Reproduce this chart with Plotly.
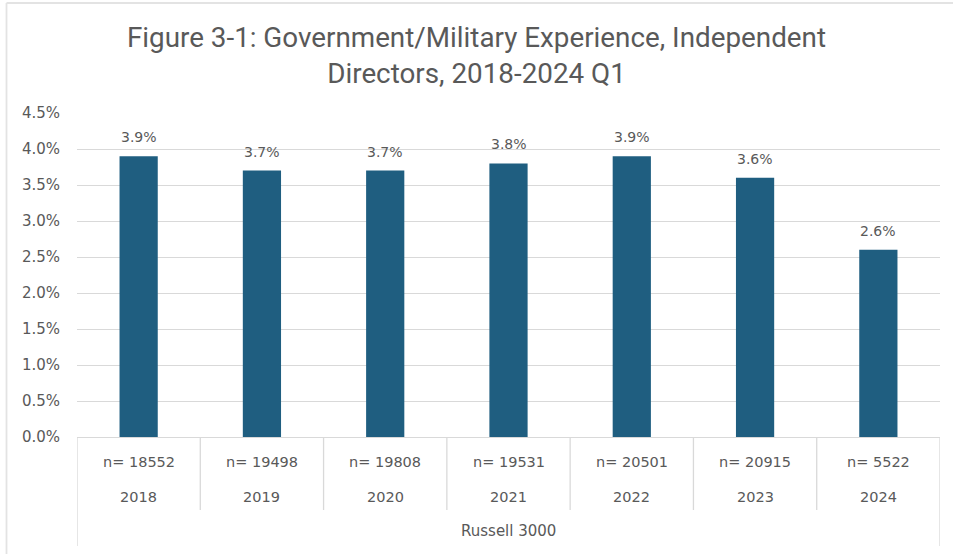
import plotly.graph_objects as go

# Share of independent directors with government/military experience (%)
years = ["2018", "2019", "2020", "2021", "2022", "2023", "2024"]
sample_sizes = ["n= 18552", "n= 19498", "n= 19808", "n= 19531", "n= 20501", "n= 20915", "n= 5522"]
share_pct = [3.9, 3.7, 3.7, 3.8, 3.9, 3.6, 2.6]
group_label = "Russell 3000"
y_ticks = [0.0, 0.5, 1.0, 1.5, 2.0, 2.5, 3.0, 3.5, 4.0, 4.5]

W, H = 953, 554
L, R, T, B = 77, 13, 113, 117
plot_w = W - L - R
plot_h = H - T - B

BAR = "#1F5E80"
TEXT = "#595959"
GRID = "#D9D9D9"
FONT = "DejaVu Sans, Arial, sans-serif"


def py(pixel_y):
    """Convert a page pixel row to paper y coordinate."""
    return (H - B - pixel_y) / plot_h


def px(pixel_x):
    return (pixel_x - L) / plot_w


xs = list(range(len(years)))

fig = go.Figure()
fig.add_trace(go.Bar(
    x=xs, y=share_pct, width=0.31,
    marker=dict(color=BAR, line=dict(width=0)),
    hoverinfo="skip",
))

annotations = []
# value labels above bars
for x, v in zip(xs, share_pct):
    annotations.append(dict(
        x=x, y=v, xref="x", yref="y", text=f"{v:.1f}%", showarrow=False,
        yanchor="bottom", yshift=9, font=dict(size=14, color=TEXT, family=FONT),
    ))
# multi-level category labels
for x, n, yr in zip(xs, sample_sizes, years):
    annotations.append(dict(
        x=x, y=py(462), xref="x", yref="paper", text=n, showarrow=False,
        yanchor="middle", font=dict(size=14.5, color=TEXT, family=FONT),
    ))
    annotations.append(dict(
        x=x, y=py(497), xref="x", yref="paper", text=yr, showarrow=False,
        yanchor="middle", font=dict(size=14.5, color=TEXT, family=FONT),
    ))
annotations.append(dict(
    x=(len(years) - 1) / 2, y=py(531), xref="x", yref="paper", text=group_label,
    showarrow=False, yanchor="middle", font=dict(size=15, color=TEXT, family=FONT),
))

shapes = []
SEP = dict(color=GRID, width=1.3)
# category separators below the axis
for i in range(len(years) + 1):
    xb = i - 0.5
    bottom = 546 if i in (0, len(years)) else 510
    shapes.append(dict(type="line", xref="x", yref="paper", x0=xb, x1=xb,
                       y0=0, y1=py(bottom), line=SEP, layer="below"))
# outer frame (left and top edges)
shapes.append(dict(type="line", xref="paper", yref="paper", x0=px(6.5), x1=px(6.5),
                   y0=py(3), y1=py(H + 2), line=dict(color="#E3E3E3", width=1.8)))
shapes.append(dict(type="line", xref="paper", yref="paper", x0=px(6.5), x1=px(W + 2),
                   y0=py(3), y1=py(3), line=dict(color="#E3E3E3", width=1.8)))

fig.update_layout(
    width=W, height=H,
    margin=dict(l=L, r=R, t=T, b=B),
    paper_bgcolor="white", plot_bgcolor="white",
    showlegend=False,
    title=dict(
        text="Figure 3-1: Government/Military Experience, Independent<br>Directors, 2018-2024 Q1",
        x=0.5, xanchor="center", y=1 - 47 / H, yanchor="middle",
        font=dict(size=27.8, color="#595959", family="Roboto, Liberation Sans, sans-serif"),
    ),
    xaxis=dict(range=[-0.5, len(years) - 0.5], showticklabels=False, showgrid=False,
               zeroline=False, showline=True, linecolor=GRID, linewidth=1.3,
               fixedrange=True),
    yaxis=dict(range=[0, 4.5], tickvals=y_ticks, ticktext=[f"{t:.1f}%" for t in y_ticks],
               showgrid=True, gridcolor=GRID, gridwidth=1.3, zeroline=False,
               showline=False, ticks="", ticklabelstandoff=16,
               tickfont=dict(size=15, color=TEXT, family=FONT), fixedrange=True),
    annotations=annotations,
    shapes=shapes,
)

fig.write_html("out.html")
